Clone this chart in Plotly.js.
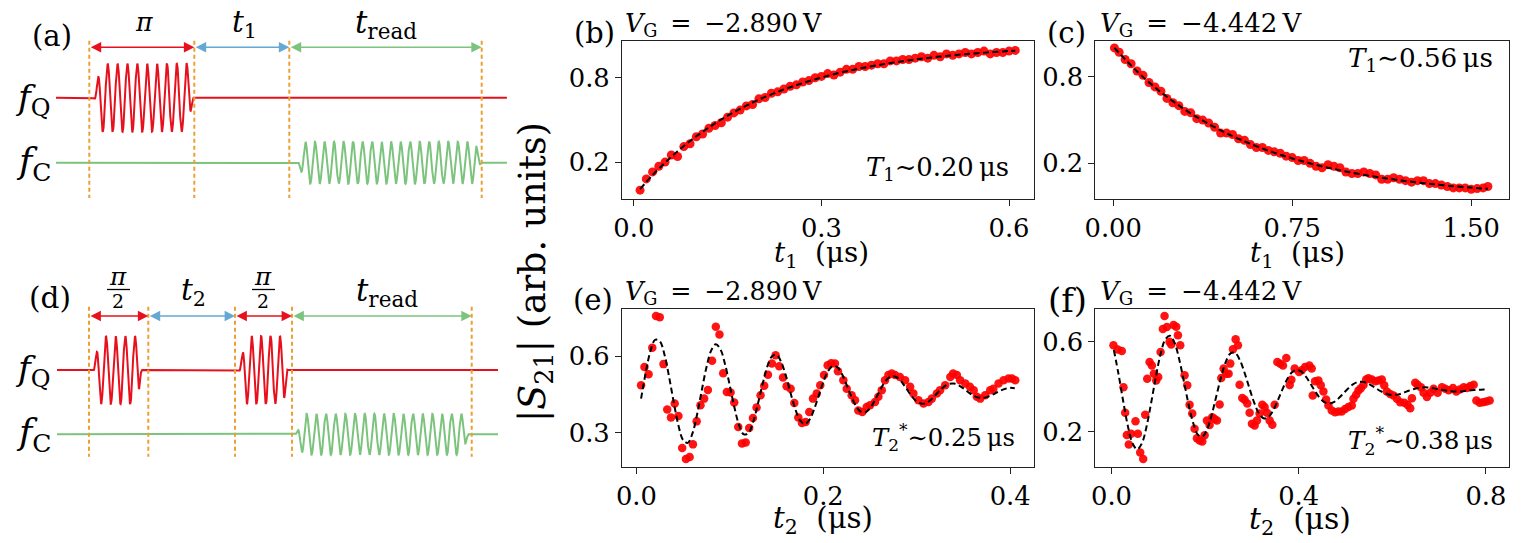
<!DOCTYPE html>
<html><head><meta charset="utf-8">
<script src="https://cdn.plot.ly/plotly-3.0.1.min.js"></script>
<style>html,body{margin:0;padding:0;background:#fff;}#chart{width:1536px;height:543px;}</style>
</head><body><div id="chart"></div>
<script>
// ---------- (b) T1 at VG = -2.890 V ----------
const b_t1 = [0.01,0.02,0.03,0.04,0.05,0.06,0.07,0.08,0.09,0.10,
0.11,0.12,0.13,0.14,0.15,0.16,0.17,0.18,0.19,0.20,
0.21,0.22,0.23,0.24,0.25,0.26,0.27,0.28,0.29,0.30,
0.31,0.32,0.33,0.34,0.35,0.36,0.37,0.38,0.39,0.40,
0.41,0.42,0.43,0.44,0.45,0.46,0.47,0.48,0.49,0.50,
0.51,0.52,0.53,0.54,0.55,0.56,0.57,0.58,0.59,0.60,0.61];
const b_s21 = [0.00,0.08,0.13,0.17,0.20,0.25,0.24,0.31,0.33,0.38,
0.40,0.44,0.46,0.48,0.52,0.55,0.57,0.60,0.61,0.65,
0.66,0.69,0.70,0.72,0.74,0.75,0.77,0.78,0.80,0.81,
0.83,0.82,0.84,0.86,0.86,0.88,0.88,0.89,0.90,0.90,
0.92,0.92,0.93,0.93,0.94,0.95,0.94,0.96,0.95,0.97,
0.96,0.97,0.98,0.97,0.98,0.99,0.97,0.98,0.98,0.99,0.995];
const b_fit_t1 = [0.01,0.03,0.05,0.07,0.09,0.11,0.13,0.15,0.17,0.19,0.21,0.23,0.25,0.27,0.29,0.31,
0.33,0.35,0.37,0.39,0.41,0.43,0.45,0.47,0.49,0.51,0.53,0.55,0.57,0.59,0.61];
const b_fit_s21 = [0.008,0.107,0.196,0.277,0.350,0.416,0.476,0.530,0.579,0.624,0.664,0.700,0.733,0.762,0.789,0.814,
0.836,0.856,0.874,0.890,0.905,0.918,0.930,0.941,0.951,0.960,0.968,0.975,0.982,0.988,0.993];

// ---------- (c) T1 at VG = -4.442 V ----------
const c_t1 = [0.005,0.025,0.05,0.075,0.1,0.125,0.15,0.175,0.2,0.225,
0.25,0.275,0.3,0.325,0.35,0.375,0.4,0.425,0.45,0.475,
0.5,0.525,0.55,0.575,0.6,0.625,0.65,0.675,0.7,0.725,
0.75,0.775,0.8,0.825,0.85,0.875,0.9,0.925,0.95,0.975,
1.0,1.025,1.05,1.075,1.1,1.125,1.15,1.175,1.2,1.225,
1.25,1.275,1.3,1.325,1.35,1.375,1.4,1.425,1.45,1.475,
1.5,1.525,1.55,1.57];
const c_s21 = [1.00,0.97,0.92,0.89,0.84,0.81,0.76,0.73,0.70,0.65,
0.62,0.60,0.56,0.55,0.51,0.50,0.48,0.45,0.41,0.41,
0.40,0.37,0.36,0.33,0.31,0.31,0.29,0.28,0.27,0.25,
0.24,0.22,0.22,0.20,0.18,0.17,0.19,0.18,0.17,0.14,
0.13,0.13,0.14,0.13,0.12,0.09,0.09,0.10,0.09,0.08,
0.07,0.08,0.08,0.06,0.06,0.05,0.04,0.03,0.03,0.03,
0.02,0.025,0.03,0.04];
const c_fit_t1 = [0.005,0.1,0.2,0.3,0.4,0.5,0.6,0.7,0.8,0.9,1.0,1.1,1.2,1.3,1.4,1.5,1.57];
const c_fit_s21 = [1.0,0.837,0.693,0.573,0.473,0.389,0.319,0.260,0.211,0.170,0.136,0.107,0.083,0.063,0.046,0.032,0.0235];

// ---------- (e) Ramsey at VG = -2.890 V ----------
const e_t2 = [0.005,0.0086,0.013,0.017,0.021,0.025,0.029,0.033,0.037,0.041,
0.045,0.049,0.053,0.057,0.0605,0.0645,0.0686,0.0725,0.0765,0.081,
0.085,0.0889,0.0929,0.0968,0.1008,0.1047,0.109,0.113,0.117,0.1207,
0.1247,0.1286,0.1329,0.1368,0.1408,0.145,0.149,0.1529,0.1569,0.1608,
0.1651,0.169,0.1733,0.1772,0.1811,0.185,0.189,0.193,0.1968,0.2008,
0.2047,0.2085,0.2125,0.2157,0.2215,0.2251,0.2304,0.234,0.2375,0.2418,
0.2465,0.25,0.2554,0.259,0.2626,0.2661,0.2697,0.2733,0.2769,0.282,
0.2876,0.293,0.2965,0.3019,0.3073,0.3126,0.3162,0.3216,0.325,0.3305,
0.336,0.339,0.343,0.3465,0.352,0.357,0.361,0.3644,0.368,0.3733,
0.3787,0.382,0.3876,0.393,0.3983,0.402,0.4055];
const e_s21 = [0.486,0.558,0.529,0.633,0.757,0.752,0.569,0.391,0.360,0.415,
0.366,0.241,0.198,0.206,0.255,0.345,0.408,0.434,0.468,0.582,
0.715,0.685,0.533,0.460,0.458,0.419,0.323,0.258,0.262,0.319,
0.358,0.399,0.447,0.484,0.527,0.571,0.604,0.561,0.517,0.482,
0.473,0.417,0.360,0.339,0.343,0.382,0.434,0.454,0.486,0.526,
0.565,0.572,0.571,0.541,0.506,0.473,0.447,0.428,0.388,0.382,
0.401,0.408,0.421,0.441,0.467,0.506,0.526,0.532,0.526,0.519,
0.506,0.480,0.454,0.428,0.415,0.421,0.434,0.454,0.467,0.486,
0.519,0.532,0.526,0.506,0.493,0.480,0.467,0.441,0.434,0.447,
0.467,0.473,0.493,0.506,0.513,0.513,0.506];
const e_fit_t2 = [0.005,0.010,0.015,0.020,0.025,0.030,0.035,0.040,0.045,0.050,
0.055,0.060,0.065,0.070,0.075,0.080,0.085,0.090,0.095,0.100,
0.105,0.110,0.115,0.120,0.125,0.130,0.135,0.140,0.145,0.150,
0.155,0.160,0.165,0.170,0.175,0.180,0.185,0.190,0.195,0.200,
0.205,0.210,0.215,0.220,0.225,0.230,0.235,0.240,0.245,0.250,
0.255,0.260,0.265,0.270,0.275,0.280,0.285,0.290,0.295,0.300,
0.305,0.310,0.315,0.320,0.325,0.330,0.335,0.340,0.345,0.350,
0.355,0.360,0.365,0.370,0.375,0.380,0.385,0.390,0.395,0.400,0.405];
const e_fit_s21 = [0.434,0.536,0.620,0.664,0.659,0.607,0.519,0.419,0.329,0.272,
0.261,0.298,0.373,0.467,0.557,0.622,0.647,0.626,0.567,0.484,
0.398,0.329,0.294,0.300,0.343,0.413,0.490,0.558,0.599,0.606,
0.577,0.523,0.456,0.394,0.350,0.335,0.350,0.390,0.444,0.499,
0.541,0.561,0.557,0.530,0.488,0.443,0.405,0.383,0.380,0.396,
0.426,0.461,0.494,0.515,0.522,0.514,0.494,0.468,0.442,0.423,
0.414,0.416,0.429,0.447,0.467,0.483,0.492,0.493,0.486,0.474,
0.460,0.447,0.439,0.437,0.440,0.447,0.457,0.466,0.473,0.476,0.475];

// ---------- (f) Ramsey at VG = -4.442 V ----------
const f_t2 = [0.0042,0.0133,0.022,0.0256,0.0292,0.0327,0.037,0.042,0.0513,0.0563,
0.0613,0.0677,0.072,0.0763,0.0813,0.0863,0.0905,0.0955,0.0998,0.1048,
0.1097,0.1133,0.1183,0.124,0.1276,0.1326,0.1383,0.1419,0.1469,0.1561,
0.1618,0.1668,0.1725,0.1775,0.1825,0.1882,0.1939,0.1989,0.2039,0.2096,
0.2153,0.2203,0.2253,0.231,0.2345,0.2395,0.2452,0.2502,0.2538,0.2595,
0.2652,0.2702,0.2737,0.2794,0.2844,0.2901,0.2951,0.3001,0.3058,0.3108,
0.3165,0.3222,0.3272,0.3322,0.3379,0.3436,0.3486,0.3543,0.3607,0.3664,
0.3735,0.3807,0.3843,0.3914,0.4007,
0.4064,0.4136,0.4228,0.4278,0.43,
0.435,0.4421,0.4471,0.4528,0.4585,0.4635,0.4706,0.4777,0.4849,0.492,
0.4991,0.5062,0.5134,0.517,0.5227,0.5277,0.5327,0.5384,0.5441,0.5491,
0.5562,0.5634,0.5705,0.5776,0.5826,0.5883,0.5955,0.6026,0.6098,0.6169,
0.6255,0.6326,0.6383,0.6419,0.649,0.654,0.6611,0.6668,0.674,0.6811,
0.6882,0.6968,0.7061,0.7132,0.7203,0.7296,0.7368,0.7439,0.7525,0.7596,
0.7667,0.7739,0.7796,0.7867,0.7938,0.801,0.8081];
const f_s21 = [0.585,0.566,0.559,0.398,0.284,0.185,0.142,0.190,0.246,0.190,
0.107,0.078,0.275,0.436,0.510,0.495,0.458,0.428,0.443,0.555,
0.657,0.715,0.666,0.600,0.588,0.675,0.667,0.630,0.585,0.451,
0.406,0.320,0.280,0.212,0.170,0.160,0.156,0.183,0.249,0.229,
0.264,0.256,0.249,0.321,0.439,0.481,0.458,0.458,0.503,0.567,
0.612,0.585,0.409,0.350,0.342,0.325,0.284,0.235,0.227,0.249,
0.280,0.320,0.310,0.284,0.249,0.230,0.320,0.510,0.502,0.495,
0.528,0.408,0.431,0.481,0.466,
0.473,0.488,0.495,0.481,0.361,
0.424,0.428,0.406,0.379,0.343,0.316,0.294,0.286,0.289,0.289,
0.301,0.309,0.316,0.346,0.364,0.383,0.393,0.408,0.432,0.438,
0.432,0.424,0.428,0.432,0.406,0.379,0.368,0.361,0.346,0.331,
0.328,0.319,0.304,0.349,0.418,0.409,0.398,0.373,0.354,0.373,
0.391,0.373,0.398,0.391,0.384,0.394,0.379,0.388,0.398,0.394,
0.403,0.409,0.339,0.328,0.331,0.334,0.339];
const f_fit_t2 = [0.005,0.015,0.025,0.035,0.045,0.055,0.065,0.075,0.085,0.095,
0.105,0.115,0.125,0.135,0.145,0.155,0.165,0.175,0.185,0.195,
0.205,0.215,0.225,0.235,0.245,0.255,0.265,0.275,0.285,0.295,
0.305,0.315,0.325,0.335,0.345,0.355,0.365,0.375,0.385,0.395,
0.405,0.415,0.425,0.435,0.445,0.455,0.465,0.475,0.485,0.495,
0.505,0.515,0.525,0.535,0.545,0.555,0.565,0.575,0.585,0.595,
0.605,0.615,0.625,0.635,0.645,0.655,0.665,0.675,0.685,0.695,
0.705,0.715,0.725,0.735,0.745,0.755,0.765,0.775,0.785,0.795,0.805];
const f_fit_s21 = [0.564,0.456,0.335,0.224,0.147,0.121,0.148,0.224,0.331,0.447,
0.547,0.611,0.627,0.594,0.519,0.420,0.318,0.235,0.185,0.179,
0.214,0.282,0.367,0.450,0.515,0.550,0.549,0.515,0.458,0.391,
0.328,0.281,0.259,0.264,0.293,0.337,0.387,0.432,0.463,0.475,
0.468,0.446,0.414,0.380,0.350,0.331,0.325,0.331,0.348,0.369,
0.391,0.409,0.420,0.422,0.417,0.406,0.393,0.380,0.370,0.364,
0.364,0.367,0.374,0.382,0.389,0.394,0.397,0.397,0.394,0.390,
0.386,0.383,0.380,0.379,0.379,0.381,0.383,0.385,0.386,0.387,0.388];

// ---------- tick labels ----------
const ticks_b_x = [0, 0.3, 0.6], ticks_b_xt = ['0.0','0.3','0.6'];
const ticks_c_x = [0, 0.75, 1.5], ticks_c_xt = ['0.00','0.75','1.50'];
const ticks_e_x = [0, 0.2, 0.4], ticks_e_xt = ['0.0','0.2','0.4'];
const ticks_f_x = [0, 0.4, 0.8], ticks_f_xt = ['0.0','0.4','0.8'];
const ticks_bc_y = [0.2, 0.8], ticks_bc_yt = ['0.2','0.8'];
const ticks_e_y = [0.3, 0.6], ticks_e_yt = ['0.3','0.6'];
const ticks_f_y = [0.2, 0.6], ticks_f_yt = ['0.2','0.6'];

// ---------- pulse-sequence schematics (schematic time units) ----------
const seqA_edges = [89.3, 194.3, 289.3, 481.7];
const seqD_edges = [89, 148.3, 235, 292, 471.7];

const FONT = 'DejaVu Serif';
const RED = '#e8101c', GREEN = '#7cc47e', BLUE = '#64a8d4', ORANGE = '#eba033';

function channel(xa, xb, base, pulses) {
  const xs = [], ys = [];
  for (let x = xa; x <= xb + 1e-9; x += 0.3) {
    let y = base;
    for (const p of pulses) {
      if (x >= p.start && x <= p.end) {
        let e = 1;
        if (x - p.start < p.rin) e = 0.5 * (1 - Math.cos(Math.PI * (x - p.start) / p.rin));
        if (p.end - x < p.rout) e = Math.min(e, 0.5 * (1 - Math.cos(Math.PI * (p.end - x) / p.rout)));
        y -= p.amp * e * Math.cos(2 * Math.PI * (x - p.peak) / p.period);
      }
    }
    xs.push(x); ys.push(y);
  }
  return {xs, ys};
}

const traces = [];
function wave(ch, color, width) {
  traces.push({x: ch.xs, y: ch.ys, xaxis: 'x5', yaxis: 'y5', mode: 'lines',
    line: {color, width, shape: 'linear'}, hoverinfo: 'skip'});
}
wave(channel(56, 507, 97.7, [{start: 93, end: 194, period: 9.87, peak: 107.7, amp: 34, rin: 9, rout: 7}]), RED, 2);
wave(channel(56, 507, 162.7, [{start: 297, end: 482, period: 9.52, peak: 315, amp: 21, rin: 9, rout: 8}]), GREEN, 2);
wave(channel(57, 498, 370, [
  {start: 92, end: 142, period: 9.67, peak: 106, amp: 34, rin: 9, rout: 5},
  {start: 238, end: 288, period: 9.43, peak: 251.7, amp: 34, rin: 9, rout: 5}]), RED, 2);
wave(channel(57, 498, 434.3, [{start: 295, end: 469, period: 9.67, peak: 306.7, amp: 20.5, rin: 9, rout: 7}]), GREEN, 2);

function vlines(edges, y0, y1) {
  const xs = [], ys = [];
  edges.forEach(v => { xs.push(v, v, null); ys.push(y0, y1, null); });
  traces.push({x: xs, y: ys, xaxis: 'x5', yaxis: 'y5', mode: 'lines',
    line: {color: ORANGE, width: 2, dash: '4px,3px'}, hoverinfo: 'skip'});
}
vlines(seqA_edges, 40.7, 198);
vlines(seqD_edges, 306.7, 456.7);

// ---------- data traces ----------
function pts(x, y, ax, size) {
  traces.push({x, y, xaxis: 'x' + ax, yaxis: 'y' + ax, mode: 'markers', type: 'scatter',
    marker: {color: 'rgba(255,0,0,0.92)', size, line: {width: 0}}, hoverinfo: 'skip'});
}
function fit(x, y, ax) {
  traces.push({x, y, xaxis: 'x' + ax, yaxis: 'y' + ax, mode: 'lines', type: 'scatter',
    line: {color: 'black', width: 2, dash: '6px,3.5px', shape: 'spline', smoothing: 1}, hoverinfo: 'skip'});
}
pts(b_t1, b_s21, '', 9); fit(b_fit_t1, b_fit_s21, '');
pts(c_t1, c_s21, '2', 9); fit(c_fit_t1, c_fit_s21, '2');
pts(e_t2, e_s21, '3', 8.5); fit(e_fit_t2, e_fit_s21, '3');
pts(f_t2, f_s21, '4', 8.5); fit(f_fit_t2, f_fit_s21, '4');

function axis(range, tv, tt, domain, anchor) {
  return {domain, range, anchor, tickmode: 'array', tickvals: tv, ticktext: tt,
    ticks: 'outside', ticklen: 6, tickwidth: 1, tickcolor: '#222',
    showline: true, linecolor: '#222', linewidth: 1, mirror: true,
    showgrid: false, zeroline: false, fixedrange: true,
    tickfont: {family: FONT, size: 24, color: '#000'}};
}
const XL = [0.4049, 0.6732], XR = [0.7131, 0.9822], YT = [0.6335, 0.9245], YB = [0.1405, 0.4309];
const AXES = ['xaxis','yaxis','xaxis2','yaxis2','xaxis3','yaxis3','xaxis4','yaxis4'];

const layout = {
  width: 1536, height: 543, margin: {l: 0, r: 0, t: 0, b: 0},
  paper_bgcolor: 'white', plot_bgcolor: 'white', showlegend: false,
  xaxis: axis([-0.019, 0.640], ticks_b_x, ticks_b_xt, XL, 'y'),
  yaxis: axis([-0.063, 1.062], ticks_bc_y, ticks_bc_yt, YT, 'x'),
  xaxis2: axis([-0.075, 1.657], ticks_c_x, ticks_c_xt, XR, 'y2'),
  yaxis2: axis([-0.047, 1.048], ticks_bc_y, ticks_bc_yt, YT, 'x2'),
  xaxis3: axis([-0.0155, 0.4256], ticks_e_x, ticks_e_xt, XL, 'y3'),
  yaxis3: axis([0.1676, 0.7846], ticks_e_y, ticks_e_yt, YB, 'x3'),
  xaxis4: axis([-0.0346, 0.8486], ticks_f_x, ticks_f_xt, XR, 'y4'),
  yaxis4: axis([0.0432, 0.7465], ticks_f_y, ticks_f_yt, YB, 'x4'),
  xaxis5: {domain: [0, 553 / 1536], range: [0, 553], visible: false, fixedrange: true, anchor: 'y5'},
  yaxis5: {domain: [0, 1], range: [543, 0], visible: false, fixedrange: true, anchor: 'x5'},
  shapes: [], annotations: []
};

// target widths (px) of each text in the reference, used to fit the font size
const annTargetW = [];
function txt(x, y, text, size, targetW, extra) {
  layout.annotations.push(Object.assign({xref: 'paper', yref: 'paper', x: x / 1536, y: 1 - y / 543,
    text, showarrow: false, font: {family: FONT, size, color: '#000'},
    xanchor: 'center', yanchor: 'middle'}, extra || {}));
  annTargetW.push(targetW || null);
}
const VG1 = '<i>V</i><sub>G</sub>\u2002=\u2002−2.890\u2009V';
const VG2 = '<i>V</i><sub>G</sub>\u2002=\u2002−4.442\u2009V';
// data panel texts
txt(594, 33, '(b)', 25, 41);
txt(623, 24, VG1, 24, 197, {xanchor: 'left'});
txt(1066, 33, '(c)', 25, 39);
txt(1098, 24, VG2, 24, 202, {xanchor: 'left'});
txt(937, 168, '<i>T</i><sub>1</sub>∼0.20\u2009μs', 24, 143);
txt(1420, 60, '<i>T</i><sub>1</sub>∼0.56\u2009μs', 24, 145);
txt(593, 300, '(e)', 25, 40);
txt(623, 292, VG1, 24, 197, {xanchor: 'left'});
txt(1067, 300, '(f)', 25, 39);
txt(1098, 292, VG2, 24, 202, {xanchor: 'left'});
txt(943, 437, '<i>T</i><sub>2</sub><sup>*</sup>∼0.25\u2009μs', 24, 143);
txt(1420, 441, '<i>T</i><sub>2</sub><sup>*</sup>∼0.38\u2009μs', 24, 145);
txt(821, 254, '<i>t</i><sub>1</sub>\u00a0\u00a0(μs)', 24, 95);
txt(1297, 254, '<i>t</i><sub>1</sub>\u00a0\u00a0(μs)', 24, 95);
txt(823, 520, '<i>t</i><sub>2</sub>\u00a0\u00a0(μs)', 24, 100);
txt(1300, 520, '<i>t</i><sub>2</sub>\u00a0\u00a0(μs)', 24, 102);
txt(535, 272, '|<i>S</i><sub>21</sub>|\u00a0(arb.\u00a0units)', 24, 300, {textangle: -90});

// schematic texts
txt(52, 36, '(a)', 25, 40);
txt(144, 22, '<i>π</i>', 28, 18);
txt(244, 24, '<i>t</i><sub>1</sub>', 28, 25);
txt(386, 24, '<i>t</i><sub>read</sub>', 28, 62);
txt(33, 100, '<i>f</i><sub>Q</sub>', 28, 35);
txt(33, 163, '<i>f</i><sub>C</sub>', 28, 35);
txt(50, 298, '(d)', 25, 42);
txt(118, 276, '<i>π</i>', 26, 18); txt(118, 301, '2', 24, 12);
txt(193, 292, '<i>t</i><sub>2</sub>', 28, 25);
txt(263, 276, '<i>π</i>', 26, 18); txt(263, 301, '2', 24, 12);
txt(387, 292, '<i>t</i><sub>read</sub>', 28, 62);
txt(33, 370, '<i>f</i><sub>Q</sub>', 28, 35);
txt(33, 434, '<i>f</i><sub>C</sub>', 28, 35);
layout.shapes.push({type: 'line', xref: 'x5', yref: 'y5', x0: 107, x1: 130, y0: 289.5, y1: 289.5, line: {color: '#000', width: 1.3}});
layout.shapes.push({type: 'line', xref: 'x5', yref: 'y5', x0: 252, x1: 275, y0: 289.5, y1: 289.5, line: {color: '#000', width: 1.3}});

// double arrows
function darrow(x0, x1, y, color) {
  layout.annotations.push({xref: 'x5', yref: 'y5', axref: 'x5', ayref: 'y5',
    x: x1, y, ax: x0, ay: y, text: '', showarrow: true, arrowside: 'end+start',
    arrowhead: 2, arrowsize: 1.3, arrowwidth: 1.6, arrowcolor: color, standoff: 0, startstandoff: 0});
  annTargetW.push(null);
}
darrow(seqA_edges[0], seqA_edges[1], 47.3, RED);
darrow(seqA_edges[1], seqA_edges[2], 47.3, BLUE);
darrow(seqA_edges[2], seqA_edges[3], 47.3, GREEN);
darrow(seqD_edges[0], seqD_edges[1], 316, RED);
darrow(seqD_edges[1], seqD_edges[2], 316, BLUE);
darrow(seqD_edges[2], seqD_edges[3], 316, RED);
darrow(seqD_edges[3], seqD_edges[4], 316, GREEN);

Plotly.newPlot('chart', traces, layout, {displayModeBar: false, staticPlot: true}).then(gd => {
  const upd = {};
  gd.querySelectorAll('g.annotation').forEach(g => {
    const i = +g.getAttribute('data-index');
    const tw = annTargetW[i];
    if (!tw) return;
    const t = g.querySelector('text.annotation-text') || g.querySelector('text');
    if (!t) return;
    const w = t.getBBox().width;
    if (w > 0) upd['annotations[' + i + '].font.size'] = +(layout.annotations[i].font.size * tw / w).toFixed(2);
  });
  const tick = gd.querySelector('g.ytick text');
  if (tick) {
    const w = tick.getBBox().width;
    if (w > 0) {
      const s = +(24 * 41 / w).toFixed(2);
      AXES.forEach(a => { upd[a + '.tickfont.size'] = s; });
    }
  }
  return Plotly.relayout(gd, upd);
});
</script>
</body></html>
